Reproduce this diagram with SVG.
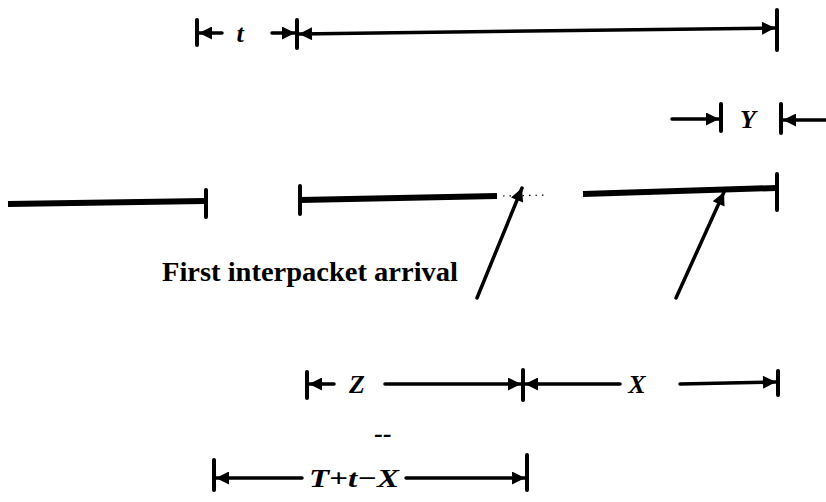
<svg xmlns="http://www.w3.org/2000/svg" width="826" height="502" viewBox="0 0 826 502">
  <style>
    .ln { stroke: #000; stroke-width: 3.5; fill: none; stroke-linecap: round; }
    .tk { stroke: #000; stroke-width: 4; fill: none; stroke-linecap: round; }
    .bar { stroke: #000; stroke-width: 6; fill: none; }
    .dot { stroke: #000; stroke-width: 1.2; stroke-dasharray: 1.5 5; fill: none; }
    .sym { font-family: "Liberation Serif", "Times New Roman", serif; font-style: italic; font-weight: bold; font-size: 26px; fill: #000; }
    .lbl { font-family: "Liberation Serif", "Times New Roman", serif; font-weight: bold; font-size: 27px; fill: #000; }
  </style>
  <defs>
    <marker id="ah" viewBox="0 0 10 10" refX="10" refY="5" markerUnits="userSpaceOnUse" markerWidth="22" markerHeight="13" orient="auto-start-reverse">
      <path d="M0,0 L10,5 L0,10 Z" fill="#000"/>
    </marker>
  </defs>
  <rect width="826" height="502" fill="#fff"/>

  <!-- interval markers -->
  <g id="connectors">
    <!-- t span -->
    <line class="tk" x1="197" y1="20" x2="197" y2="45"/>
    <line class="ln" x1="222" y1="33" x2="199" y2="33" marker-end="url(#ah)"/>
    <line class="ln" x1="272" y1="33" x2="295" y2="33" marker-end="url(#ah)"/>
    <line class="tk" x1="297" y1="20" x2="297" y2="48"/>
    <!-- long span -->
    <line class="ln" x1="299" y1="34" x2="775" y2="28" marker-start="url(#ah)" marker-end="url(#ah)"/>
    <line class="tk" x1="777" y1="10" x2="777" y2="50"/>

    <!-- Y span -->
    <line class="ln" x1="672" y1="119" x2="719" y2="119" marker-end="url(#ah)"/>
    <line class="tk" x1="721" y1="104" x2="721" y2="131"/>
    <line class="tk" x1="781" y1="104" x2="781" y2="133"/>
    <line class="ln" x1="826" y1="120" x2="783" y2="120" marker-end="url(#ah)"/>

    <!-- arrival arrows -->
    <line class="ln" x1="477" y1="298" x2="522" y2="188" marker-end="url(#ah)"/>
    <line class="ln" x1="676" y1="298" x2="724" y2="192" marker-end="url(#ah)"/>

    <!-- Z and X spans -->
    <line class="tk" x1="307" y1="372" x2="307" y2="398"/>
    <line class="ln" x1="334" y1="384" x2="309" y2="384" marker-end="url(#ah)"/>
    <line class="ln" x1="385" y1="384" x2="521" y2="384" marker-end="url(#ah)"/>
    <line class="tk" x1="523" y1="370" x2="523" y2="400"/>
    <line class="ln" x1="620" y1="384" x2="525" y2="384" marker-end="url(#ah)"/>
    <line class="ln" x1="680" y1="384" x2="776" y2="382" marker-end="url(#ah)"/>
    <line class="tk" x1="778" y1="371" x2="778" y2="395"/>

    <!-- T+t-X span -->
    <line class="tk" x1="214" y1="460" x2="214" y2="490"/>
    <line class="ln" x1="302" y1="478" x2="216" y2="478" marker-end="url(#ah)"/>
    <line class="ln" x1="406" y1="478" x2="525" y2="478" marker-end="url(#ah)"/>
    <line class="tk" x1="527" y1="455" x2="527" y2="490"/>
  </g>

  <!-- packet bars -->
  <g id="packet1">
    <line class="bar" x1="8" y1="204" x2="205" y2="201"/>
    <line class="tk" x1="206" y1="190" x2="206" y2="217"/>
  </g>
  <g id="packet2">
    <line class="tk" x1="300" y1="186" x2="300" y2="214"/>
    <line class="bar" x1="300" y1="200" x2="497" y2="196"/>
    <line class="dot" x1="503" y1="196" x2="548" y2="195"/>
  </g>
  <g id="packet3">
    <line class="bar" x1="583" y1="194" x2="776" y2="188"/>
    <line class="tk" x1="777" y1="174" x2="777" y2="210"/>
  </g>

  <!-- labels -->
  <g id="labels">
    <text class="sym" x="240" y="42" text-anchor="middle">t</text>
    <text class="sym" x="748" y="128" text-anchor="middle">Y</text>
    <text class="lbl" x="162" y="281" textLength="296" lengthAdjust="spacingAndGlyphs">First interpacket arrival</text>
    <text class="sym" x="357" y="393" text-anchor="middle">Z</text>
    <text class="sym" x="637" y="393" text-anchor="middle">X</text>
    <text class="sym" x="383" y="442" text-anchor="middle">--</text>
    <text class="sym" x="354" y="487" text-anchor="middle" textLength="90" lengthAdjust="spacingAndGlyphs">T+t−X</text>
  </g>
</svg>
